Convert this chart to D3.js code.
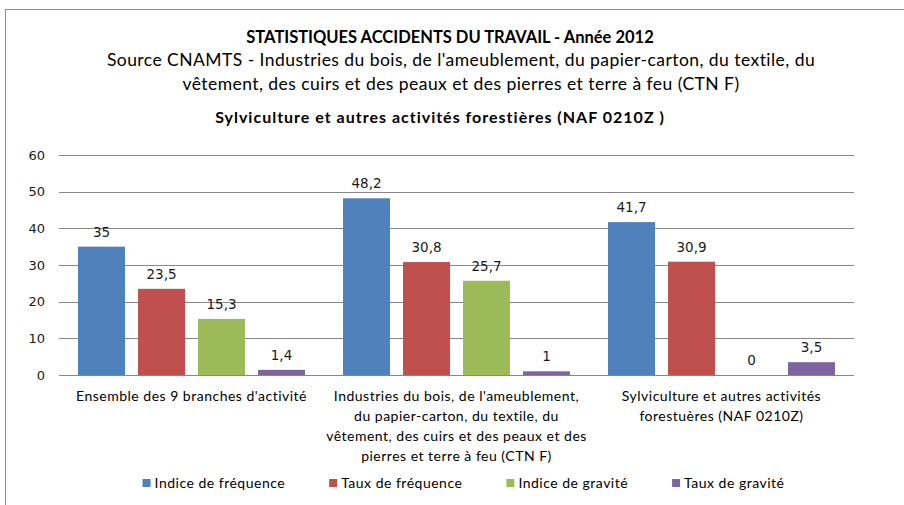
<!DOCTYPE html>
<html>
<head>
<meta charset="utf-8">
<script src="https://cdn.jsdelivr.net/npm/d3@7"></script>
<style>
  body { margin: 0; background: #fff; }
  svg { display: block; }
</style>
</head>
<body>
<svg id="chart" width="904" height="505"></svg>
<script>
// Accident statistics 2012, grouped by sector
const categories = [
  "Ensemble des 9 branches d'activité",
  "Industries du bois, de l'ameublement,\ndu papier-carton, du textile, du\nvêtement, des cuirs et des peaux et des\npierres et terre à feu (CTN F)",
  "Sylviculture et autres activités\nforestuères (NAF 0210Z)"
];
const seriesNames = ["Indice de fréquence", "Taux de fréquence", "Indice de gravité", "Taux de gravité"];
const seriesColors = ["#4F81BD", "#C0504D", "#9BBB59", "#8064A2"];
const indiceFrequence = [35, 48.2, 41.7];
const tauxFrequence = [23.5, 30.8, 30.9];
const indiceGravite = [15.3, 25.7, 0];
const tauxGravite = [1.4, 1, 3.5];
const yTicks = [0, 10, 20, 30, 40, 50, 60];

const titleLines = ["STATISTIQUES ACCIDENTS DU TRAVAIL - Année 2012"];
const sourceLines = [
  "Source CNAMTS -  Industries du bois, de l'ameublement, du papier-carton, du textile, du",
  "vêtement, des cuirs et des peaux et des pierres et terre à feu (CTN F)"
];
const chartSubtitle = "Sylviculture et autres activités forestières (NAF 0210Z )";

const series = [indiceFrequence, tauxFrequence, indiceGravite, tauxGravite];

const svg = d3.select("#chart");
const plot = { left: 59, right: 854, top: 155, bottom: 375 };
const textFont = "Lato, 'Open Sans', sans-serif";
const numFont = "'DejaVu Sans', Verdana, sans-serif";

// outer frame
svg.append("rect")
  .attr("x", 5.5).attr("y", 9.5)
  .attr("width", 960).attr("height", 560)
  .attr("fill", "#fff").attr("stroke", "#8c8c8c").attr("stroke-width", 1);

// titles
svg.append("text")
  .attr("x", 450).attr("y", 43)
  .attr("text-anchor", "middle")
  .attr("font-family", textFont).attr("font-weight", "bold").attr("font-size", 16.5)
  .attr("fill", "#000")
  .text(titleLines[0]);

svg.selectAll("text.source").data(sourceLines).join("text")
  .attr("class", "source")
  .attr("x", 461).attr("y", (d, i) => 66 + i * 24)
  .attr("text-anchor", "middle")
  .attr("font-family", textFont).attr("font-size", 17.5).attr("letter-spacing", 0.45)
  .attr("fill", "#000")
  .text(d => d);

svg.append("text")
  .attr("x", 440).attr("y", 123)
  .attr("text-anchor", "middle")
  .attr("font-family", textFont).attr("font-weight", "bold").attr("font-size", 16)
  .attr("letter-spacing", 1)
  .attr("fill", "#000")
  .text(chartSubtitle);

// scales
const y = d3.scaleLinear().domain([0, 60]).range([plot.bottom, plot.top]);
const x0 = d3.scaleBand().domain(d3.range(categories.length)).range([plot.left, plot.right]).padding(0);
const x1 = d3.scaleBand().domain(d3.range(series.length)).range([0, x0.bandwidth()])
  .paddingInner(0.217).paddingOuter(0.317);

// gridlines
svg.append("g")
  .selectAll("line").data(yTicks).join("line")
  .attr("x1", plot.left).attr("x2", plot.right)
  .attr("y1", d => Math.round(y(d)) + 0.5).attr("y2", d => Math.round(y(d)) + 0.5)
  .attr("stroke", "#878787").attr("stroke-width", 1);

// y axis labels
const yAxis = d3.axisLeft(y).tickValues(yTicks).tickSize(0).tickPadding(14);
const yg = svg.append("g").attr("transform", `translate(${plot.left},0)`).call(yAxis);
yg.select(".domain").remove();
yg.selectAll("text")
  .attr("font-family", numFont).attr("font-size", 13).attr("fill", "#1a1a1a");

const fmt = v => String(v).replace(".", ",");

// bars
const groups = svg.append("g").selectAll("g").data(categories).join("g")
  .attr("transform", (d, i) => `translate(${x0(i)},0)`);

groups.each(function (cat, ci) {
  const g = d3.select(this);
  const vals = series.map((s, si) => ({ si, v: s[ci] }));
  g.selectAll("rect").data(vals.filter(d => d.v > 0)).join("rect")
    .attr("x", d => x1(d.si)).attr("width", x1.bandwidth())
    .attr("y", d => y(d.v)).attr("height", d => y(0) - y(d.v))
    .attr("fill", d => seriesColors[d.si]);
  g.selectAll("text.val").data(vals).join("text")
    .attr("class", "val")
    .attr("x", d => x1(d.si) + x1.bandwidth() / 2)
    .attr("y", d => y(d.v) - 10)
    .attr("text-anchor", "middle")
    .attr("font-family", numFont).attr("font-size", 13.5).attr("fill", "#1a1a1a")
    .text(d => fmt(d.v));
});

// category labels
groups.append("text")
  .attr("text-anchor", "middle")
  .attr("font-family", textFont).attr("font-size", 14).attr("letter-spacing", 0.5)
  .attr("fill", "#000")
  .selectAll("tspan").data(d => d.split("\n")).join("tspan")
  .attr("x", x0.bandwidth() / 2)
  .attr("y", (d, i) => 401 + i * 20)
  .text(d => d);

// legend
const legend = svg.append("g");
const items = legend.selectAll("g").data(seriesNames).join("g");
items.append("rect").attr("width", 8).attr("height", 8).attr("y", 479)
  .attr("fill", (d, i) => seriesColors[i]);
items.append("text").attr("x", 12).attr("y", 488)
  .attr("font-family", textFont).attr("font-size", 14).attr("letter-spacing", 0.5)
  .attr("fill", "#000")
  .text(d => d);
const widths = [];
items.each(function () { widths.push(this.getBBox().width); });
const gap = 44;
const total = d3.sum(widths) + gap * (widths.length - 1);
let cx = 463.5 - total / 2;
items.attr("transform", (d, i) => {
  const t = `translate(${cx},0)`;
  cx += widths[i] + gap;
  return t;
});
</script>
</body>
</html>
